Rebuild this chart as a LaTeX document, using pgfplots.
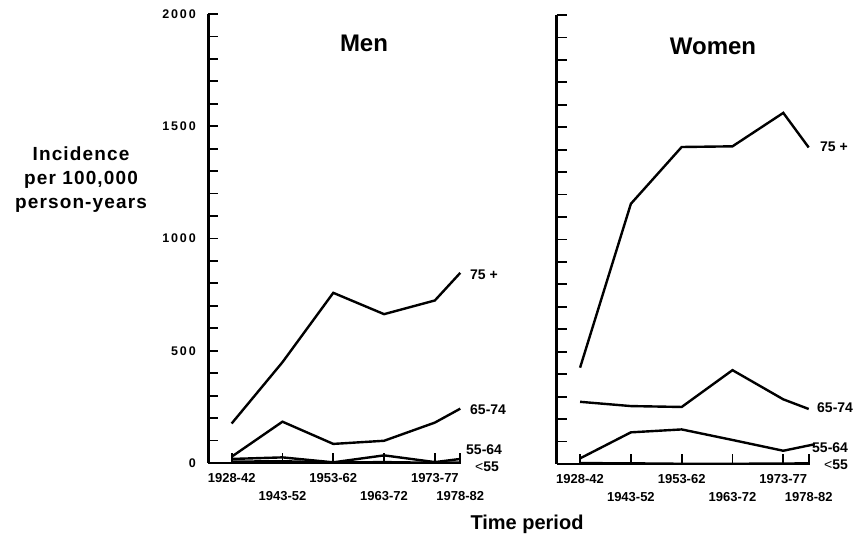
\documentclass[border=0pt]{standalone}
\usepackage{fontspec}
\setmainfont{Liberation Sans}
\usepackage{pgfplots}
\pgfplotsset{compat=1.18}

\pgfplotsset{panel/.style={
  scale only axis, width=253pt, height=449pt,
  xmin=-0.46, xmax=4.52, ymin=0, ymax=2000,
  axis x line=bottom, axis y line=left,
  axis line style={line width=2.6pt, -},
  tick align=inside,
  xtick={0,2,4}, xticklabels={1928-42,1953-62,1973-77},
  extra x ticks={1,3,4.5}, extra x tick labels={1943-52,1963-72,1978-82},
  extra x tick style={grid=none, xticklabel style={yshift=-18pt}},
  xticklabel style={font=\fontsize{13}{14}\selectfont\bfseries, yshift=-7pt},
  major tick length=10pt, minor tick length=10pt,
  every tick/.style={black, line width=1.8pt},
  every minor tick/.style={black, line width=1.8pt},
  clip=false,
}}
\tikzset{cv/.style={black, line width=2.4pt, mark=none}}

\begin{document}
\begin{tikzpicture}[x=1pt,y=1pt]
\useasboundingbox (0,0) rectangle (853,540);
\clip (0,0) rectangle (853,540);

% Men
\begin{axis}[panel, at={(208.3pt,77pt)}, anchor=south west,
  ytick={0,500,1000,1500,2000}, yticklabels={0,500,1000,1500,2000},
  minor ytick={100,200,300,400,600,700,800,900,1100,1200,1300,1400,1600,1700,1800,1900},
  yticklabel style={font=\fontsize{12.5}{13}\selectfont\bfseries\addfontfeature{LetterSpace=15}, xshift=-9pt},
]
\addplot[cv] coordinates {(0,176) (1,449) (2,758) (3,663) (4,724) (4.5,847)};
\addplot[cv] coordinates {(0,28) (1,184) (2,85) (3,99) (4,180) (4.5,242)};
\addplot[cv] coordinates {(0,18) (1,25) (2,3) (3,34) (4,4) (4.5,18)};
\addplot[cv] coordinates {(0,6) (1,8) (2,2) (3,4) (4,1) (4.5,2)};
\end{axis}

% Women
\begin{axis}[panel, at={(556.7pt,76pt)}, anchor=south west,
  ytick={100,200,...,2000}, yticklabels={},
]
\addplot[cv] coordinates {(0,429) (1,1159) (2,1412) (3,1415) (4,1564) (4.5,1410)};
\addplot[cv] coordinates {(0,277) (1,258) (2,254) (3,418) (4,288) (4.5,245)};
\addplot[cv] coordinates {(0,25) (1,141) (2,154) (3,107) (4,59) (4.62,88)};
\addplot[cv] coordinates {(0,4) (1,3) (2,1) (3,1) (4,2) (4.5,3)};
\end{axis}

% Titles and labels
\node[anchor=base, inner sep=0] at (364,488) {\fontsize{24}{26}\selectfont\bfseries Men};
\node[anchor=base, inner sep=0] at (713,485) {\fontsize{24}{26}\selectfont\bfseries Women};
\node[align=center, inner sep=0, font=\fontsize{19}{24}\selectfont\bfseries\addfontfeature{LetterSpace=6}] at (81,360) {Incidence\\ per 100,000\\ person-years};
\node[anchor=base, inner sep=0] at (527,10) {\fontsize{20}{22}\selectfont\bfseries Time period};

\begin{scope}[every node/.style={anchor=west, inner sep=0, font=\fontsize{14}{15}\selectfont\bfseries}]
\node at (470,265) {75 +};
\node at (470,130) {65-74};
\node at (466,90) {55-64};
\node at (475,73) {{\mdseries <}55};
\node at (820,393) {75 +};
\node at (817,132) {65-74};
\node at (812,92) {55-64};
\node at (824,75) {{\mdseries <}55};
\end{scope}
\end{tikzpicture}
\end{document}
